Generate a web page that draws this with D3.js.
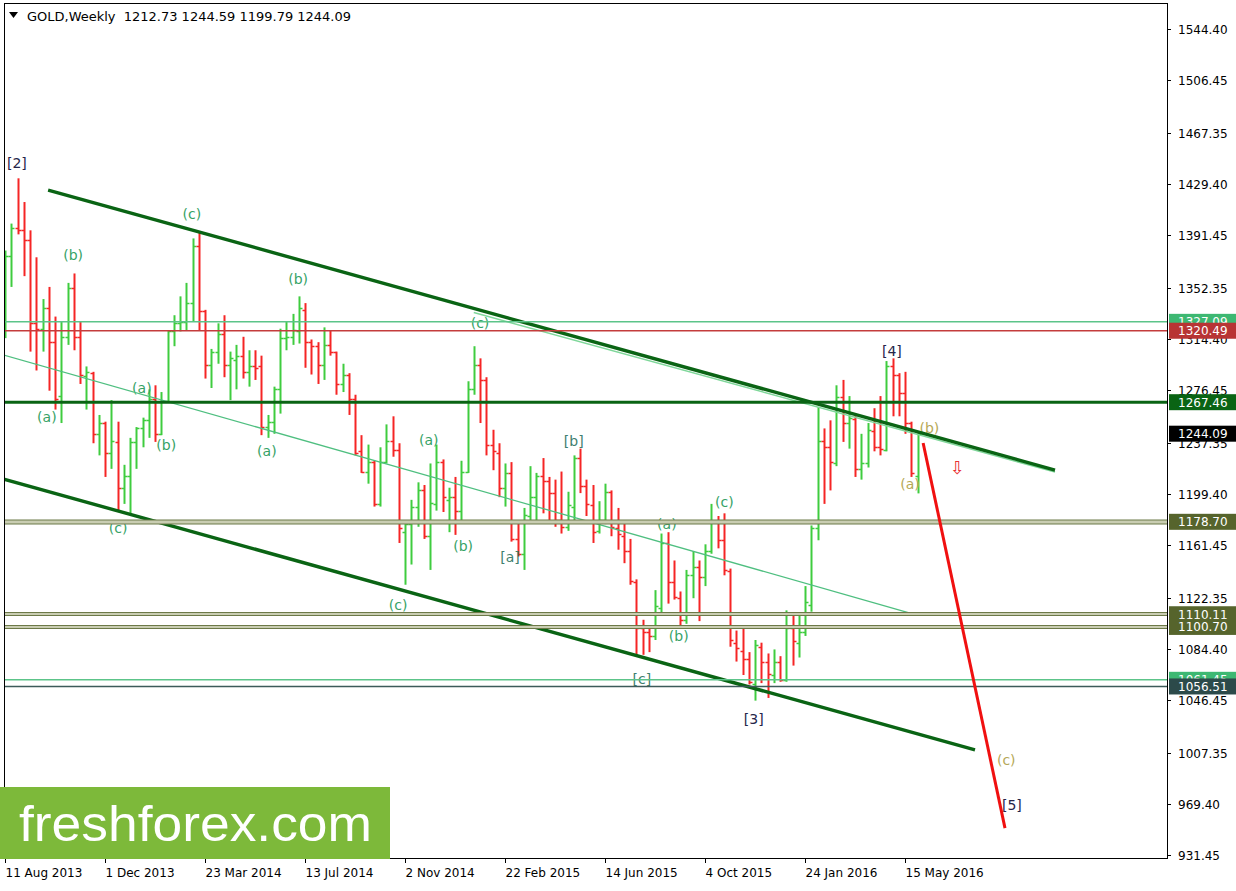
<!DOCTYPE html>
<html><head><meta charset="utf-8">
<script src="https://cdn.jsdelivr.net/npm/d3@7"></script>
<style>html,body{margin:0;padding:0;background:#fff;} svg{display:block;}</style>
</head><body>
<svg id="chart" width="1236" height="891"></svg>
<script>
// ---------------- DATA ----------------
const startDate = "2013-08-11";
const opens = [1320,1376,1397,1395,1388,1326,1322,1337,1312,1272,1316,1352,1316,1287,1289,1244,1252,1230,1238,1204,1213,1238,1248,1254,1270,1244,1268,1320,1326,1327,1341,1383,1335,1295,1305,1318,1295,1299,1302,1290,1294,1294,1249,1253,1277,1315,1316,1320,1336,1312,1309,1295,1310,1305,1281,1288,1270,1231,1216,1223,1192,1223,1239,1232,1171,1177,1190,1202,1168,1192,1223,1195,1197,1187,1216,1277,1295,1284,1236,1230,1204,1215,1166,1155,1183,1197,1213,1209,1200,1180,1175,1190,1226,1205,1191,1172,1180,1201,1174,1168,1157,1134,1100,1097,1094,1115,1163,1134,1122,1106,1139,1145,1138,1157,1179,1165,1142,1089,1083,1077,1058,1086,1075,1065,1075,1061,1100,1089,1097,1117,1174,1239,1234,1222,1271,1252,1255,1218,1222,1246,1234,1232,1294,1288,1274,1252,1212.73];
const highs = [1380,1400,1433.6,1416,1395,1375,1344,1353,1331,1327,1356,1363,1327,1294,1290,1258,1253,1269,1253,1221,1241,1249,1256,1277,1280,1275,1321,1332,1346,1356,1389,1394,1336,1307,1326,1332,1305,1310,1316,1306,1306,1302,1258,1279,1322,1327,1333,1346,1341,1314,1312,1323,1321,1305,1296,1289,1273,1243,1236,1224,1234,1251,1257,1237,1179,1195,1208,1206,1222,1236,1225,1204,1212,1224,1283,1309,1300,1286,1247,1237,1222,1223,1179,1189,1220,1215,1226,1212,1210,1216,1201,1228,1233,1210,1206,1194,1207,1202,1189,1178,1166,1136,1106,1102,1128,1170,1171,1150,1127,1143,1157,1150,1162,1192,1183,1185,1144,1098,1100,1082,1091,1089,1081,1084,1079,1113,1111,1111,1131,1176,1264,1248,1254,1280,1284,1272,1257,1244,1252,1263,1272,1298,1300,1289,1290,1253,1244.59];
const lows = [1315,1353,1392,1361,1305,1291,1305,1276,1262,1252,1310,1306,1281,1262,1237,1228,1212,1218,1187,1192,1185,1218,1234,1241,1238,1243,1267,1309,1320,1321,1327,1321,1285,1278,1296,1286,1269,1277,1285,1279,1284,1243,1241,1244,1259,1306,1310,1311,1293,1288,1281,1284,1302,1273,1275,1258,1228,1215,1207,1190,1190,1222,1227,1163,1132,1147,1175,1166,1143,1187,1186,1171,1169,1180,1215,1273,1252,1228,1217,1197,1190,1164,1153,1143,1179,1179,1185,1179,1175,1170,1172,1180,1200,1183,1163,1170,1177,1168,1158,1148,1132,1080,1080,1082,1091,1111,1118,1121,1100,1103,1122,1105,1131,1155,1159,1139,1086,1075,1065,1058,1046,1059,1048,1059,1060,1060,1072,1078,1094,1112,1165,1192,1202,1220,1238,1233,1212,1210,1219,1231,1228,1231,1257,1257,1244,1212,1199.79];
const closes = [1376,1397,1395,1388,1326,1322,1337,1312,1270,1316,1352,1316,1288,1290,1244,1252,1230,1239,1204,1213,1238,1248,1254,1270,1244,1268,1320,1326,1327,1341,1383,1335,1295,1305,1318,1295,1300,1302,1290,1294,1293,1249,1253,1277,1315,1316,1321,1337,1312,1309,1295,1310,1305,1281,1288,1270,1230,1216,1223,1192,1223,1239,1232,1174,1177,1190,1202,1168,1193,1223,1197,1197,1187,1216,1277,1295,1284,1236,1231,1204,1215,1166,1155,1184,1197,1213,1209,1200,1180,1175,1191,1226,1205,1192,1171,1180,1201,1175,1170,1157,1135,1100,1097,1094,1116,1163,1134,1123,1106,1139,1145,1138,1157,1179,1165,1143,1091,1085,1077,1060,1087,1075,1066,1075,1061,1100,1090,1097,1119,1174,1239,1234,1223,1271,1252,1256,1218,1222,1247,1234,1233,1294,1288,1274,1252,1215,1244.09];

const yTickValues = [1544.40,1506.45,1467.35,1429.40,1391.45,1352.35,1314.40,1276.45,1237.35,1199.40,1161.45,1122.35,1084.40,1046.45,1007.35,969.40,931.45];
const xTickIndex = [0,16,32,48,64,80,96,112,128,144];
const xTickLabels = ["11 Aug 2013","1 Dec 2013","23 Mar 2014","13 Jul 2014","2 Nov 2014","22 Feb 2015","14 Jun 2015","4 Oct 2015","24 Jan 2016","15 May 2016"];

// horizontal levels
const levelValues = [1327.09,1320.49,1267.46,1178.70,1110.11,1100.70,1061.45,1056.51];
const levelKinds  = ["lgreen","red","dgreen","oliveW","olive","olive","lgreen","slate"];
const currentPrice = 1244.09;

// trend lines [idx1, price1, idx2, price2]
const upperChannel = [6.9, 1424.9, 168, 1217.1];
const lowerChannel = [-0.2, 1210.4, 155.2, 1009.4];
const midLine      = [-0.2, 1302.5, 144.8, 1111.0];
const upperThin    = [75, 1334.0, 168, 1215.6];
const forecast     = [146.9, 1237.2, 160.0, 951.4];

// wave labels
const waveText  = ["[2]","(b)","(c)","(b)","(c)","(a)","(a)","(b)","(a)","(c)","(a)","(b)","[b]","[a]","(c)","(a)","(b)","(c)","[c]","[3]","[4]","(b)","(a)","(c)","[5]"];
const waveIdx   = [1.9,10.9,29.9,46.9,76,6.7,21.9,25.8,41.9,18.1,67.8,73.3,91,80.8,62.9,105.9,107.8,115.1,101.9,119.8,141.9,147.9,144.8,160.2,161.1];
const wavePrice = [1445.0,1376.7,1407.1,1358.9,1326.2,1256.5,1278.0,1235.7,1231.2,1174.1,1239.4,1160.7,1238.7,1152.6,1117.0,1177.1,1094.0,1193.4,1062.0,1032.4,1305.4,1248.3,1206.7,1001.9,968.5];
const waveKind  = ["dark","g","g","g","g","g","g","g","g","g","g","g","t","t","g","g","g","g","t","dark","dark","k","k","k","dark"];

// ---------------- LAYOUT ----------------
const svg = d3.select("#chart");
const L = 4, R = 1167, T = 3, B = 858;
const barStep = 6.25;
const x = d3.scaleLinear().domain([0, (R - 5) / barStep]).range([5, R]);
const y = d3.scaleLinear().domain([931.45, 1544.40]).range([855, 29]);
const FONT = "DejaVu Sans, Verdana, sans-serif";

svg.append("rect").attr("width",1236).attr("height",891).attr("fill","#fff");

const plot = svg.append("g");
svg.append("clipPath").attr("id","pc").append("rect")
  .attr("x",L).attr("y",T).attr("width",R-L).attr("height",B-T);
plot.attr("clip-path","url(#pc)");

const bars = d3.range(opens.length).map(i => ({i, o:opens[i], h:highs[i], l:lows[i], c:closes[i]}));
const UP = "#3fcc3f", DN = "#f52525";
const bg = plot.append("g");
bars.forEach(d => {
  const col = d.c >= d.o ? UP : DN;
  const cx = Math.round(x(d.i)) + 0.5;
  const g = bg.append("g").attr("stroke", col);
  g.append("line").attr("x1",cx).attr("x2",cx).attr("y1",y(d.h)).attr("y2",y(d.l)).attr("stroke-width",2);
  g.append("line").attr("x1",cx-3).attr("x2",cx).attr("y1",Math.round(y(d.o))+0.5).attr("y2",Math.round(y(d.o))+0.5).attr("stroke-width",1.5);
  g.append("line").attr("x1",cx).attr("x2",cx+3).attr("y1",Math.round(y(d.c))+0.5).attr("y2",Math.round(y(d.c))+0.5).attr("stroke-width",1.5);
});

// wave labels
const waveCol = {dark:"#26264a", g:"#36a266", t:"#3f7f6f", k:"#b5a856"};
waveText.forEach((t,i) => {
  plot.append("text").attr("x", x(waveIdx[i])).attr("y", y(wavePrice[i]))
    .attr("text-anchor","middle").attr("dominant-baseline","central")
    .attr("font-family",FONT).attr("font-size",14).attr("fill",waveCol[waveKind[i]]).text(t);
});

function seg(arr, col, w) {
  plot.append("line").attr("x1",x(arr[0])).attr("y1",y(arr[1])).attr("x2",x(arr[2])).attr("y2",y(arr[3]))
    .attr("stroke",col).attr("stroke-width",w).attr("stroke-linecap","butt");
}
seg(midLine, "#4fbf80", 1.3);
seg(upperThin, "#7fd79a", 1.5);
seg(upperChannel, "#0a6414", 3.4);
seg(lowerChannel, "#0a6414", 3.4);

// horizontal levels
const lvlLine = {lgreen:["#5cc489",1.5], red:["#c43c3c",1.5], dgreen:["#0a6414",3], slate:["#3d5a5a",1.5]};
levelValues.forEach((v,i) => {
  const k = levelKinds[i];
  if (k === "oliveW" || k === "olive") {
    const yy = Math.round(y(v));
    const hw = k === "oliveW" ? 2 : 1.5;
    plot.append("rect").attr("x",L).attr("width",R-L).attr("y",yy-hw).attr("height",2*hw).attr("fill","#c9cdb2");
    plot.append("line").attr("x1",L).attr("x2",R).attr("y1",yy-hw).attr("y2",yy-hw).attr("stroke","#6d7a48").attr("stroke-width",1.2);
    plot.append("line").attr("x1",L).attr("x2",R).attr("y1",yy+hw).attr("y2",yy+hw).attr("stroke","#6d7a48").attr("stroke-width",1.2);
  } else {
    plot.append("line").attr("x1",L).attr("x2",R).attr("y1",y(v)).attr("y2",y(v))
      .attr("stroke",lvlLine[k][0]).attr("stroke-width",lvlLine[k][1]);
  }
});

seg(forecast, "#f01010", 3);
// hollow down arrow
plot.append("text").attr("x", x(152.4)).attr("y", y(1219)).attr("text-anchor","middle").attr("dominant-baseline","central")
  .attr("font-family",FONT).attr("font-size",18).attr("fill","#e83030").text("\u21E9");

// frame
svg.append("rect").attr("x",L+0.5).attr("y",T+0.5).attr("width",R-L).attr("height",B-T)
  .attr("fill","none").attr("stroke","#000").attr("stroke-width",1);

// y axis
const yAxis = svg.append("g");
yTickValues.forEach(v => {
  const yy = Math.round(y(v)) + 0.5;
  yAxis.append("line").attr("x1",R).attr("x2",R+4).attr("y1",yy).attr("y2",yy).attr("stroke","#000");
  yAxis.append("text").attr("x",R+11).attr("y",yy+4.5).attr("font-family",FONT).attr("font-size",12).attr("fill","#000").text(v.toFixed(2));
});
// x axis
xTickIndex.forEach((ix,k) => {
  const xx = Math.round(x(ix)) + 0.5;
  svg.append("line").attr("x1",xx).attr("x2",xx).attr("y1",B).attr("y2",B+5).attr("stroke","#000");
  svg.append("text").attr("x",xx).attr("y",B+19).attr("font-family",FONT).attr("font-size",12).attr("fill","#000").text(xTickLabels[k]);
});

// level boxes (MT4 price labels; they stack over each other like in the original)
const boxCol = {lgreen:"#3db872", red:"#b83434", dgreen:"#0a6414", oliveW:"#56642c", olive:"#56642c", slate:"#2c4a4a"};
function box(v, fill) {
  const yy = y(v);
  svg.append("rect").attr("x",R+2).attr("y",yy-8).attr("width",1236-R-2).attr("height",16).attr("fill",fill);
  svg.append("text").attr("x",R+11).attr("y",yy+4.5).attr("font-family",FONT).attr("font-size",12).attr("fill","#fff").text(v.toFixed(2));
}
levelValues.forEach((v,i) => box(v, boxCol[levelKinds[i]]));
box(currentPrice, "#000");

// logo
svg.append("rect").attr("x",0).attr("y",787).attr("width",390).attr("height",B-787+1).attr("fill","#7db93a");
svg.append("text").attr("x",19).attr("y",841).attr("font-family","Liberation Sans, Arial, sans-serif").attr("font-size",50)
  .attr("fill","#fff").attr("textLength",353).attr("lengthAdjust","spacingAndGlyphs").text("freshforex.com");

// header
svg.append("path").attr("d", d3.line()([[9,12],[18,12],[13.5,18]]) + "Z").attr("fill","#000");
svg.append("text").attr("x",27).attr("y",21).attr("font-family",FONT).attr("font-size",13).attr("fill","#000")
  .attr("xml:space","preserve").attr("textLength",324).attr("lengthAdjust","spacingAndGlyphs")
  .text("GOLD,Weekly  1212.73 1244.59 1199.79 1244.09");
</script>
</body></html>
